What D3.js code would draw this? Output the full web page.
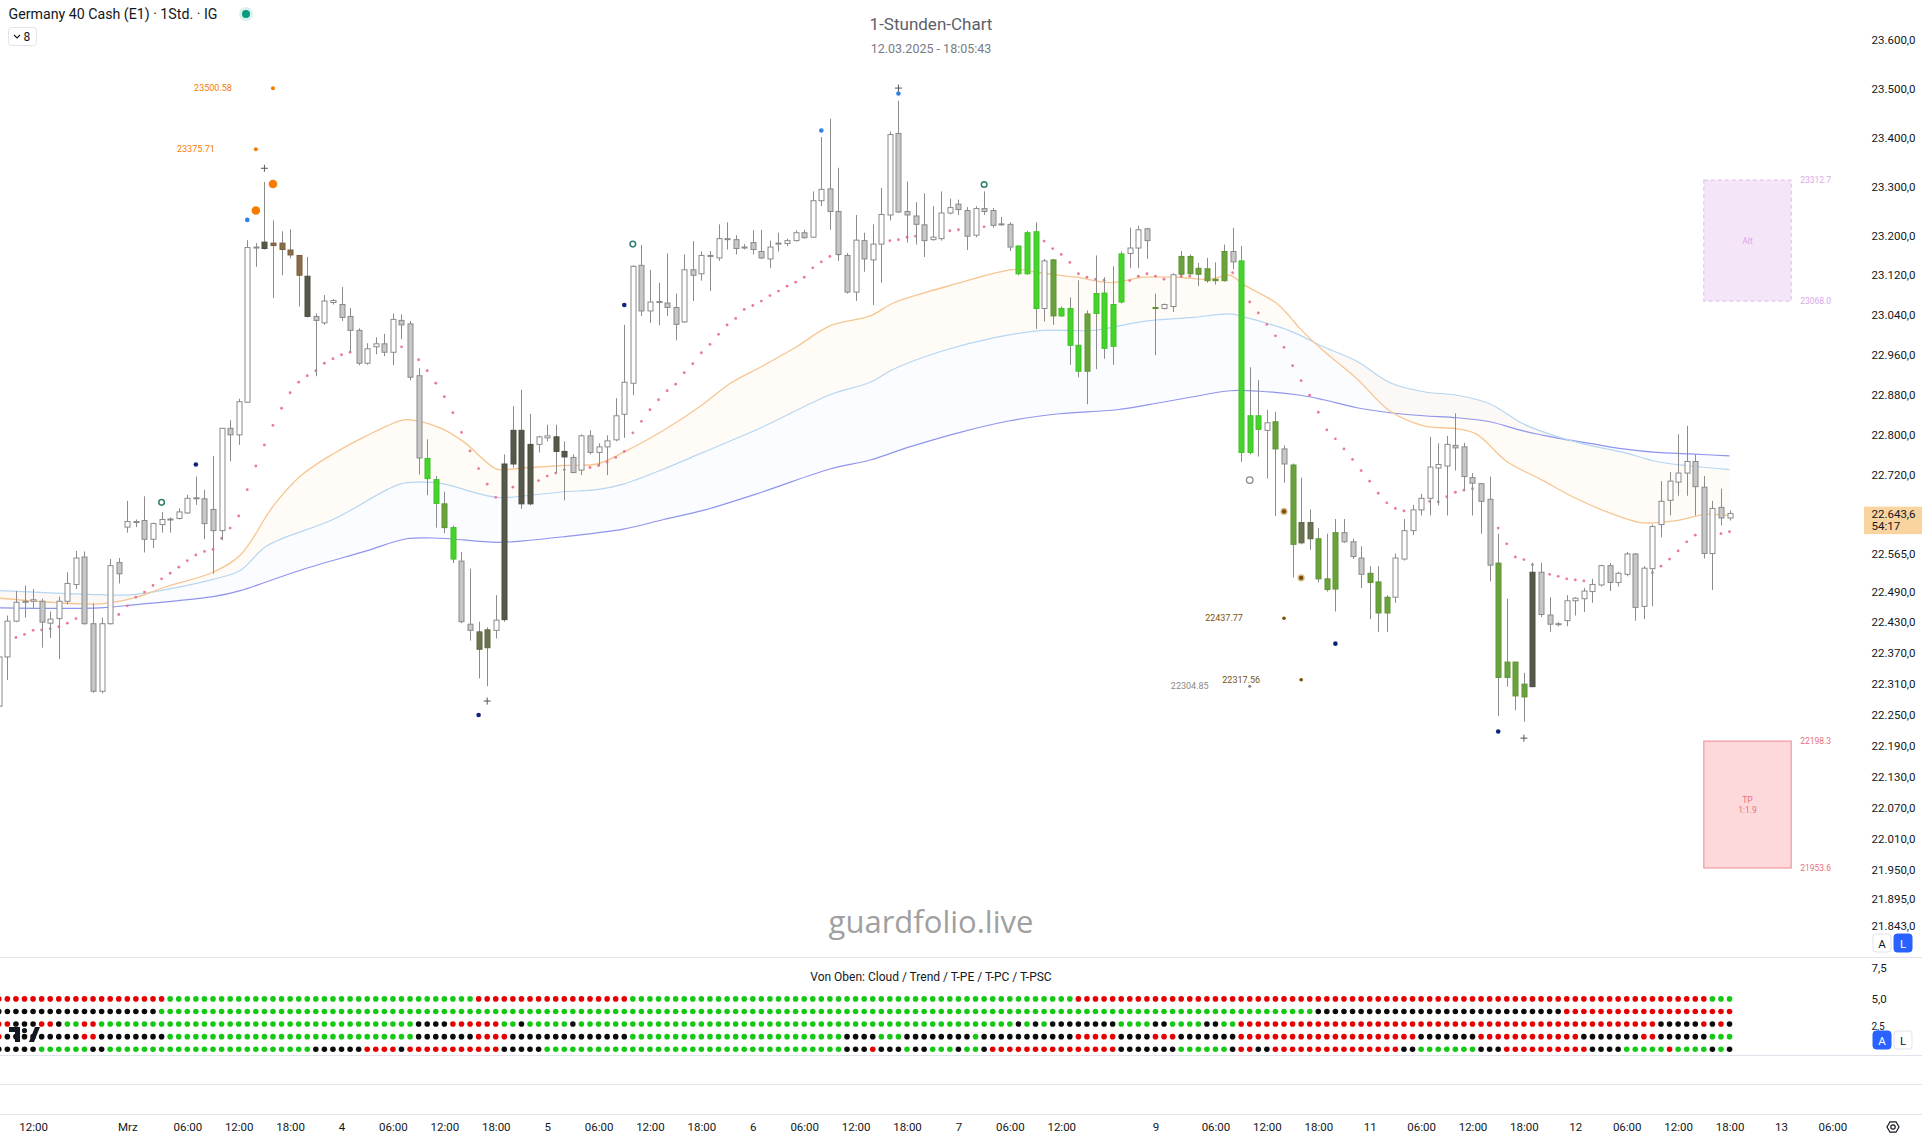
<!DOCTYPE html>
<html><head><meta charset="utf-8">
<script src="https://cdn.jsdelivr.net/npm/d3@7"></script>
<style>
html,body{margin:0;padding:0;background:#fff;overflow:hidden;}
svg{display:block;font-family:Roboto,"Noto Sans",sans-serif;}
</style></head><body>
<svg id="c" width="1922" height="1140"></svg>
<script>
// ---------------- DATA ----------------
const opens  = [22266,22362,22432,22469,22471,22471,22428,22437,22471,22504,22558,22427,22295,22427,22547,22617,22627,22630,22593,22622,22632,22634,22645,22674,22673,22652,22610,22813,22800,22865,23176,23174,23185,23185,23171,23160,23118,23037,23024,23065,23061,23037,23009,22943,22976,22982,22965,23029,23022,22918,22753,22711,22663,22616,22550,22426,22411,22380,22414,22435,22742,22809,22663,22781,22794,22796,22767,22755,22730,22798,22765,22776,22790,22841,22903,23140,23048,23066,23064,23055,23026,23131,23123,23159,23155,23192,23192,23177,23186,23168,23153,23185,23184,23190,23206,23197,23271,23295,23249,23160,23086,23190,23151,23183,23242,23408,23249,23240,23222,23192,23194,23246,23264,23251,23201,23255,23251,23223,23223,23179,23123,23208,23053,23151,23038,23053,22979,22927,23043,23084,22977,23066,23164,23175,23214,23053,23053,23057,23122,23158,23134,23133,23112,23109,23168,23149,22765,22838,22809,22826,22772,22740,22586,22626,22594,22515,22495,22606,22588,22556,22526,22509,22448,22479,22554,22610,22651,22674,22734,22738,22779,22776,22715,22703,22672,22546,22322,22352,22284,22304,22528,22444,22426,22433,22472,22476,22490,22503,22541,22508,22524,22564,22461,22535,22622,22670,22706,22724,22747,22696,22565,22656,22635];
const highs  = [22375,22443,22491,22502,22495,22476,22451,22480,22528,22570,22569,22467,22439,22554,22556,22669,22632,22678,22626,22647,22636,22654,22681,22717,22691,22758,22813,22829,22872,23191,23185,23309,23231,23209,23213,23161,23157,23043,23080,23072,23096,23054,23013,22983,22995,23002,23043,23041,23028,22933,22791,22718,22687,22620,22568,22535,22431,22420,22483,22761,22857,22890,22842,22798,22820,22820,22787,22761,22801,22809,22783,22799,22873,23020,23140,23181,23131,23105,23164,23083,23162,23189,23168,23169,23223,23227,23201,23183,23211,23212,23190,23206,23194,23211,23212,23290,23401,23438,23338,23165,23242,23206,23223,23297,23412,23475,23310,23268,23286,23260,23290,23275,23273,23258,23260,23290,23256,23238,23227,23180,23210,23227,23153,23153,23057,23075,23110,23049,23160,23116,23138,23168,23216,23220,23216,23083,23063,23124,23169,23162,23145,23155,23146,23182,23216,23179,22935,22909,22850,22846,22779,22743,22715,22652,22615,22604,22633,22633,22594,22579,22540,22540,22483,22565,22633,22661,22683,22796,22783,22798,22843,22784,22724,22704,22717,22604,22476,22352,22331,22547,22547,22479,22430,22483,22479,22497,22515,22543,22546,22529,22568,22566,22540,22622,22708,22726,22801,22818,22761,22718,22669,22693,22650];
const lows   = [22232,22317,22430,22439,22458,22380,22399,22358,22465,22495,22425,22292,22291,22425,22506,22606,22617,22567,22576,22606,22606,22632,22643,22661,22593,22525,22591,22747,22780,22865,23137,23172,23074,23120,23154,23057,23035,22917,23020,23061,23028,22965,22939,22940,22961,22957,22939,22991,22909,22721,22680,22616,22605,22546,22428,22394,22320,22305,22398,22431,22735,22653,22660,22765,22787,22724,22670,22724,22720,22761,22739,22720,22787,22794,22879,23038,23024,23019,23038,22989,23024,23068,23109,23088,23149,23172,23162,23172,23162,23153,23135,23168,23179,23188,23194,23196,23260,23212,23149,23083,23068,23127,23060,23105,23231,23246,23186,23182,23157,23190,23190,23243,23242,23171,23197,23242,23216,23220,23169,23120,23121,23012,23027,23020,23036,22940,22915,22861,22931,22952,22940,23063,23135,23135,23153,22959,23051,23046,23116,23120,23098,23105,23101,23107,23132,22746,22761,22757,22713,22639,22705,22518,22583,22572,22508,22490,22451,22586,22554,22497,22436,22411,22411,22468,22551,22601,22640,22640,22660,22640,22729,22690,22640,22604,22510,22247,22304,22258,22236,22303,22440,22411,22422,22422,22443,22450,22468,22500,22491,22500,22520,22433,22436,22461,22597,22640,22679,22679,22640,22555,22493,22620,22630];
const closes = [22362,22432,22469,22471,22474,22430,22436,22471,22506,22556,22427,22295,22427,22541,22525,22628,22628,22593,22624,22632,22633,22647,22674,22675,22624,22610,22813,22800,22866,23176,23177,23187,23180,23172,23161,23120,23037,23029,23068,23069,23035,23009,22943,22972,22982,22965,23031,23020,22915,22754,22713,22664,22616,22554,22431,22414,22377,22415,22434,22742,22809,22663,22781,22796,22798,22767,22756,22725,22798,22765,22776,22788,22838,22905,23138,23048,23066,23067,23055,23021,23131,23120,23160,23160,23194,23194,23174,23177,23172,23155,23177,23185,23190,23206,23196,23271,23294,23249,23162,23086,23191,23153,23183,23243,23406,23248,23242,23223,23190,23197,23246,23257,23253,23199,23255,23249,23221,23224,23177,23123,23206,23053,23149,23038,23053,22979,22927,23042,23083,22973,23061,23163,23175,23212,23190,23055,23061,23121,23158,23123,23122,23109,23109,23168,23147,22765,22838,22811,22824,22772,22742,22583,22626,22594,22515,22494,22606,22588,22559,22524,22508,22448,22479,22556,22610,22651,22674,22736,22741,22781,22774,22717,22704,22668,22542,22322,22352,22286,22309,22528,22445,22426,22427,22472,22477,22491,22504,22541,22508,22526,22564,22459,22536,22618,22668,22708,22724,22747,22697,22565,22654,22635,22644];
// candle colour code per bar: w hollow, g grey, G bright green, o olive, D dark olive, d dark, b brown
const candleKinds = "wwwwwgwwww"+"ggwwgwwgww"+"wwwwggwgww"+"wdbbbbdgww"+"gggwwgwggg"+"GGoGggDDwd"+"dddwwddgwg"+"wwwwwgwwgg"+"wgwwwwgwgg"+"wwwwgwwggg"+"wgwwwggggw"+"wwggwggwgG"+"GGwoGGGoGG"+"GGwwgowwoo"+"oooogGGGwo"+"goDDoooggg"+"ooowwwwwww"+"gggggooood"+"ggwwwwwwgw"+"wgwwwwwwgg"+"wgw";

// moving averages read at [bar, price]
const emaFast = [[0.1,22477],[11.8,22466],[15.7,22477],[19.6,22500],[25,22528],[28.2,22562],[32,22658],[35.2,22718],[39,22762],[42.9,22798],[46.8,22828],[48,22830],[51.5,22814],[54.2,22787],[58.1,22732],[59.7,22732],[62,22735],[65.9,22739],[69.8,22742],[72.9,22765],[77.6,22809],[82.2,22861],[85.3,22902],[89.2,22938],[93.1,22976],[97,23018],[101.7,23038],[104.4,23064],[108.3,23086],[112.2,23105],[116.1,23124],[118.8,23132],[121.9,23124],[125.8,23116],[129.7,23105],[133.6,23116],[137.5,23116],[141.4,23112],[143.7,23120],[145.3,23101],[149.1,23064],[150.7,23036],[151.9,23012],[154.6,22968],[158.5,22912],[162.4,22847],[166.3,22818],[170.2,22812],[172.5,22801],[176,22747],[179.9,22712],[183.8,22676],[187.7,22647],[191.6,22626],[195.4,22629],[199.3,22642],[202,22640]];
const emaMid = [[0.1,22492],[11.8,22484],[15.7,22484],[25,22514],[28.2,22532],[31.3,22580],[39,22632],[46.8,22702],[49.2,22706],[51.5,22704],[58.1,22676],[62,22680],[65.9,22687],[69.8,22691],[72.9,22702],[77.6,22732],[82.2,22765],[89.2,22816],[97,22880],[101.7,22905],[104.4,22931],[110.2,22968],[116.1,22994],[121.9,23009],[127.7,23009],[133.6,23027],[139.4,23035],[143.7,23042],[145.3,23036],[150.7,23008],[154.6,22976],[158.5,22947],[162.4,22904],[166.3,22886],[170.2,22879],[174,22862],[177.9,22822],[181.8,22797],[185.7,22779],[189.6,22765],[193.5,22747],[197.4,22738],[202,22731]];
const emaSlow = [[0.1,22458],[11.8,22458],[15.7,22464],[25,22480],[28.2,22492],[35.2,22532],[42.9,22570],[47.6,22594],[51.5,22595],[58.1,22587],[62,22591],[65.9,22598],[72.9,22613],[77.6,22632],[82.2,22650],[89.2,22687],[97,22732],[101.7,22750],[106.3,22776],[112.2,22805],[118,22828],[123.8,22842],[130.5,22850],[135.5,22864],[139.4,22876],[143.7,22888],[147.2,22887],[151.9,22879],[154.6,22870],[158.5,22854],[162.4,22844],[166.3,22838],[170.2,22834],[174,22826],[177.9,22808],[181.8,22794],[185.7,22783],[189.6,22772],[193.5,22765],[197.4,22762],[202,22758]];

// trailing stop dots [bar, price]
const sarDots = [[2,22400],[3,22406],[4,22414],[5,22415],[6,22417],[7,22421],[8,22428],[9,22437],[10,22440],[14,22445],[15,22462],[16,22479],[17,22489],[18,22502],[19,22515],[20,22526],[21,22538],[22,22551],[23,22562],[24,22569],[25,22573],[26,22595],[27,22615],[28,22639],[29,22691],[30,22738],[31,22780],[32,22819],[33,22853],[34,22884],[35,22905],[36,22918],[37,22928],[38,22943],[39,22952],[40,22960],[41,22965],[42,22966],[47,22976],[48,22972],[49,22950],[50,22928],[51,22903],[52,22876],[53,22844],[54,22805],[55,22768],[56,22733],[57,22702],[58,22676],[60,22696],[63,22709],[64,22718],[65,22724],[66,22731],[67,22733],[69,22735],[70,22739],[71,22746],[72,22755],[73,22767],[74,22804],[75,22827],[76,22850],[77,22870],[78,22888],[79,22901],[80,22924],[81,22942],[82,22964],[83,22981],[84,23001],[85,23020],[86,23033],[87,23051],[88,23059],[89,23068],[90,23079],[91,23088],[92,23098],[93,23106],[94,23116],[95,23135],[96,23147],[97,23158],[98,23162],[99,23151],[104,23190],[105,23192],[106,23197],[107,23199],[108,23201],[111,23210],[112,23212],[114,23216],[115,23218],[122,23189],[123,23174],[124,23162],[125,23146],[126,23123],[127,23116],[128,23112],[129,23110],[132,23109],[133,23118],[134,23123],[135,23118],[136,23112],[138,23118],[139,23118],[144,23125],[146,23066],[147,23044],[148,23021],[149,22998],[150,22975],[151,22938],[152,22908],[153,22879],[154,22845],[155,22810],[156,22792],[157,22772],[158,22751],[159,22729],[160,22708],[161,22684],[162,22665],[163,22654],[164,22649],[166,22663],[167,22668],[168,22667],[169,22677],[170,22686],[171,22690],[172,22693],[174,22643],[175,22615],[176,22584],[177,22558],[178,22553],[179,22543],[181,22524],[182,22520],[183,22515],[184,22513],[185,22511],[191,22513],[193,22527],[194,22540],[195,22554],[196,22570],[197,22588],[198,22601],[201,22604],[202,22608]];

// signal markers
const markers = [
  {bar:32,price:23500.58,kind:"orangeS"},{bar:30,price:23375.71,kind:"orangeS"},
  {bar:32,price:23305,kind:"orangeL"},{bar:30,price:23251,kind:"orangeL"},
  {bar:29,price:23232,kind:"blue"},{bar:96,price:23414,kind:"blue"},{bar:105,price:23490,kind:"blue"},
  {bar:23,price:22741,kind:"navy"},{bar:56,price:22249,kind:"navy"},{bar:73,price:23060,kind:"navy"},{bar:156,price:22388,kind:"navy"},{bar:175,price:22217,kind:"navy"},
  {bar:19,price:22666,kind:"ringTeal"},{bar:74,price:23183,kind:"ringTeal"},{bar:115,price:23304,kind:"ringTeal"},
  {bar:146,price:22710,kind:"ringGray"},
  {bar:150,price:22648,kind:"brownRing"},{bar:152,price:22517,kind:"brownRing"},
  {bar:150,price:22437.77,kind:"brownS"},{bar:152,price:22317.56,kind:"brownS"},{bar:146,price:22304.85,kind:"grayS"},
  {bar:31,price:23337,kind:"plus"},{bar:57,price:22276,kind:"plus"},{bar:105,price:23501,kind:"plus"},{bar:178,price:22204,kind:"plus"}
];
const markerLabels = [
  {bar:32,price:23500.58,text:"23500.58",color:"#f57c00"},
  {bar:30,price:23375.71,text:"23375.71",color:"#f57c00"},
  {bar:150,price:22437.77,text:"22437.77",color:"#7a5410"},
  {bar:152,price:22317.56,text:"22317.56",color:"#7a5410"},
  {bar:146,price:22304.85,text:"22304.85",color:"#8a8a8a"}
];
// projection boxes
const boxes = [
  {name:"Alt",lines:["Alt"],bar0:199,bar1:209.2,top:23312.7,bottom:23068.0,fill:"#f4e6f8",stroke:"#e3c4ee",text:"#d9a6e6",dash:"4,3"},
  {name:"TP",lines:["TP","1:1.9"],bar0:199,bar1:209.2,top:22198.3,bottom:21953.6,fill:"#fdd9db",stroke:"#f09aa0",text:"#e8707a",dash:null}
];

// price axis (log scale) ticks
const priceTicks = [23600,23500,23400,23300,23200,23120,23040,22960,22880,22800,22720,22565,22490,22430,22370,22310,22250,22190,22130,22070,22010,21950,21895,21843];
const lastPrice = 22643.6, countdown = "54:17";
// time axis
const timeTickBars   = [4,15,22,28,34,40,46,52,58,64,70,76,82,88,94,100,106,112,118,124,135,142,148,154,160,166,172,178,184,190,196,202,208,214];
const timeTickLabels = ["12:00","Mrz","06:00","12:00","18:00","4","06:00","12:00","18:00","5","06:00","12:00","18:00","6","06:00","12:00","18:00","7","06:00","12:00","9","06:00","12:00","18:00","11","06:00","12:00","18:00","12","06:00","12:00","18:00","13","06:00"];

// indicator pane rows (run lengths of r red / g green / k black)
const rowCloud = [["r",20],["g",36],["r",18],["g",52],["r",74],["g",3]];
const rowTrend = [["k",19],["g",135],["k",29],["r",20]];
const rowTPE   = [["r",2],["k",3],["r",2],["k",1],["g",2],["r",2],["g",37],["k",4],["r",6],["g",2],["k",1],["g",5],["k",1],["g",51],["k",1],["g",1],["k",1],["g",1],["k",8],["g",4],["k",2],["g",4],["k",2],["g",2],["r",49],["k",5],["r",1],["k",1],["r",1],["k",1]];
const rowTPC   = [["r",1],["k",9],["r",2],["k",8],["g",29],["k",7],["r",4],["k",14],["g",25],["k",4],["g",3],["k",8],["g",1],["k",11],["r",5],["k",4],["r",3],["k",7],["r",21],["k",7],["r",12],["k",7],["r",2],["k",6],["g",3]];
const rowTPSC  = [["k",5],["g",6],["k",2],["g",24],["k",6],["r",4],["k",1],["r",11],["k",5],["g",35],["k",3],["r",1],["k",3],["g",1],["k",2],["g",3],["k",1],["g",2],["k",1],["r",15],["k",7],["g",6],["k",1],["r",2],["k",2],["r",15],["k",2],["g",7],["k",3],["r",10],["k",4],["g",5],["r",1],["g",4],["k",1],["g",1],["k",1]];
const rowValues = [5,4,3,2,1];
const indTicks = [7.5,5.0,2.5];

// ---------------- DRAWING ----------------
const svg = d3.select("#c");
const W = 1922, H = 1140;
const mainBottom = 957, plotRight = 1860;
const font = 'Roboto,"Noto Sans",sans-serif';

const x = d3.scaleLinear().domain([0, 217]).range([-1.2, -1.2 + 217*8.568]);
const y = d3.scaleLog().domain([23682.5, 21783.6]).range([0, mainBottom]);
const yi = d3.scaleLinear().domain([7.5, 1]).range([967.5, 1049.2]);

const loc = d3.formatLocale({decimal:",",thousands:".",grouping:[3],currency:["",""]});
const fmtP = loc.format(",.1f");
const fmtI = loc.format(".1f");

svg.append("rect").attr("width",W).attr("height",H).attr("fill","#fff");

const defs = svg.append("defs");
defs.append("clipPath").attr("id","mainClip").append("rect").attr("x",0).attr("y",0).attr("width",plotRight).attr("height",mainBottom);

// pane separators
[mainBottom, 1055, 1084, 1114].forEach(v=>{
  svg.append("line").attr("x1",0).attr("x2",W).attr("y1",v+0.5).attr("y2",v+0.5).attr("stroke","#e0e3eb").attr("stroke-width",1);
});

const main = svg.append("g").attr("clip-path","url(#mainClip)");

// watermark
main.append("text").attr("x",931).attr("y",933).attr("text-anchor","middle")
  .attr("font-family",'"Open Sans",Roboto,sans-serif').attr("font-size",31).attr("fill","#a0a0a0").text("guardfolio.live");

// cloud fills
const lineGen = d3.line().x(d=>x(d[0])).y(d=>y(d[1])).curve(d3.curveCatmullRom.alpha(0.5));
function band(a,b){
  const p1 = lineGen(a);
  const p2 = lineGen(b.slice().reverse());
  return p1 + "L" + p2.slice(1) + "Z";
}
main.append("path").attr("d",band(emaFast,emaMid)).attr("fill","rgba(255,170,80,0.05)").attr("stroke","none");
main.append("path").attr("d",band(emaMid,emaSlow)).attr("fill","rgba(130,150,255,0.032)").attr("stroke","none");
main.append("path").attr("d",lineGen(emaSlow)).attr("fill","none").attr("stroke","#8f95ec").attr("stroke-width",1.2);
main.append("path").attr("d",lineGen(emaMid)).attr("fill","none").attr("stroke","#b6d6f2").attr("stroke-width",1.2);
main.append("path").attr("d",lineGen(emaFast)).attr("fill","none").attr("stroke","#f6c692").attr("stroke-width",1.3);

// SAR dots
main.append("g").selectAll("circle").data(sarDots).join("circle")
  .attr("cx",d=>x(d[0])).attr("cy",d=>y(d[1])).attr("r",1.4).attr("fill","#e97a96");

// candles
const kindStyle = {
  w:{fill:"#ffffff",stroke:"#8a8a8a"},
  g:{fill:"#c7c7c7",stroke:"#8a8a8a"},
  G:{fill:"#46d42c",stroke:"#3cc124"},
  o:{fill:"#6aa23c",stroke:"#5e9234"},
  D:{fill:"#6a7350",stroke:"#5e6646"},
  d:{fill:"#55594b",stroke:"#4a4d41"},
  b:{fill:"#8c6b47",stroke:"#7c5d3c"}
};
const bars = opens.map((o,i)=>({i,o,h:highs[i],l:lows[i],c:closes[i],k:candleKinds[i]}));
const cg = main.append("g");
const bw = 5;
bars.forEach(b=>{
  const cx = Math.round(x(b.i)) + 0.5;
  cg.append("line").attr("x1",cx).attr("x2",cx).attr("y1",y(b.h)).attr("y2",y(b.l)).attr("stroke","#8c8c8c").attr("stroke-width",1);
  const yt = y(Math.max(b.o,b.c)), yb = y(Math.min(b.o,b.c));
  const st = kindStyle[b.k];
  cg.append("rect").attr("x",cx-bw/2).attr("y",yt).attr("width",bw).attr("height",Math.max(1,yb-yt))
    .attr("fill",st.fill).attr("stroke",st.stroke).attr("stroke-width",1);
});

// markers
const mg = main.append("g");
markers.forEach(m=>{
  const cx = x(m.bar), cy = y(m.price);
  switch(m.kind){
    case "orangeS": mg.append("circle").attr("cx",cx).attr("cy",cy).attr("r",2).attr("fill","#f57c00"); break;
    case "orangeL": mg.append("circle").attr("cx",cx).attr("cy",cy).attr("r",4.3).attr("fill","#f57c00"); break;
    case "blue": mg.append("circle").attr("cx",cx).attr("cy",cy).attr("r",2.3).attr("fill","#2f80e8"); break;
    case "navy": mg.append("circle").attr("cx",cx).attr("cy",cy).attr("r",2.3).attr("fill","#10237a"); break;
    case "ringTeal": mg.append("circle").attr("cx",cx).attr("cy",cy).attr("r",2.8).attr("fill","none").attr("stroke","#2e7d6e").attr("stroke-width",1.5); break;
    case "ringGray": mg.append("circle").attr("cx",cx).attr("cy",cy).attr("r",3.3).attr("fill","none").attr("stroke","#8a8a8a").attr("stroke-width",1.3); break;
    case "brownRing":
      mg.append("circle").attr("cx",cx).attr("cy",cy).attr("r",3.6).attr("fill","#d7b98a");
      mg.append("circle").attr("cx",cx).attr("cy",cy).attr("r",2.2).attr("fill","#7a4d08"); break;
    case "brownS": mg.append("circle").attr("cx",cx).attr("cy",cy).attr("r",1.8).attr("fill","#7a4d08"); break;
    case "grayS": mg.append("circle").attr("cx",cx).attr("cy",cy).attr("r",1.6).attr("fill","#8a8a8a"); break;
    case "plus":
      mg.append("path").attr("d",`M${cx-3.5},${cy}H${cx+3.5}M${cx},${cy-3.5}V${cy+3.5}`).attr("stroke","#555").attr("stroke-width",1); break;
  }
});
markerLabels.forEach(l=>{
  mg.append("text").attr("x",x(l.bar-7)).attr("y",y(l.price)+3).attr("text-anchor","middle")
    .attr("font-family",font).attr("font-size",9).attr("fill",l.color).text(l.text);
});

// projection boxes
boxes.forEach(b=>{
  const x0 = x(b.bar0), x1 = x(b.bar1), y0 = y(b.top), y1 = y(b.bottom);
  const r = main.append("rect").attr("x",x0).attr("y",y0).attr("width",x1-x0).attr("height",y1-y0)
    .attr("fill",b.fill).attr("stroke",b.stroke).attr("stroke-width",1.2);
  if(b.dash) r.attr("stroke-dasharray",b.dash);
  const mid = (y0+y1)/2;
  b.lines.forEach((t,k)=>{
    main.append("text").attr("x",(x0+x1)/2).attr("y",mid + 3 + (k-(b.lines.length-1)/2)*10)
      .attr("text-anchor","middle").attr("font-family",font).attr("font-size",8.5).attr("fill",b.text).text(t);
  });
  [[b.top,y0],[b.bottom,y1]].forEach(([p,yy])=>{
    main.append("text").attr("x",x1+9).attr("y",yy+3).attr("font-family",font).attr("font-size",8.5)
      .attr("fill",b.text).text(p.toFixed(1));
  });
});

// titles
svg.append("text").attr("x",931).attr("y",30).attr("text-anchor","middle").attr("font-family",font)
  .attr("font-size",17).attr("fill","#5d606b").text("1-Stunden-Chart");
svg.append("text").attr("x",931).attr("y",53).attr("text-anchor","middle").attr("font-family",font)
  .attr("font-size",12.5).attr("fill","#787b86").text("12.03.2025 - 18:05:43");

svg.append("text").attr("x",8.5).attr("y",19).attr("font-family",font).attr("font-size",14.2)
  .attr("fill","#131722").text("Germany 40 Cash (E1) · 1Std. · IG");
svg.append("circle").attr("cx",246).attr("cy",14).attr("r",7).attr("fill","rgba(8,153,129,0.15)");
svg.append("circle").attr("cx",246).attr("cy",14).attr("r",4).attr("fill","#089981");
svg.append("rect").attr("x",8.5).attr("y",27.5).attr("width",28).attr("height",18).attr("rx",3)
  .attr("fill","#fff").attr("stroke","#e0e3eb");
svg.append("path").attr("d","M14,35 l3,3 l3,-3").attr("fill","none").attr("stroke","#131722").attr("stroke-width",1.1);
svg.append("text").attr("x",23.5).attr("y",41).attr("font-family",font).attr("font-size",12).attr("fill","#131722").text("8");

// price axis
const pa = svg.append("g").attr("transform",`translate(${plotRight+8},0)`)
  .call(d3.axisRight(y).tickValues(priceTicks).tickFormat(fmtP).tickSize(0).tickPadding(3.5));
pa.select(".domain").remove();
pa.selectAll("text").attr("font-family",font).attr("font-size",11.5).attr("fill","#131722");

// last price badge
const ly = y(lastPrice);
svg.append("rect").attr("x",1864).attr("y",ly-7).attr("width",58).attr("height",27.5).attr("fill","#f9d49f");
svg.append("text").attr("x",1871.5).attr("y",ly+4).attr("font-family",font).attr("font-size",11.5).attr("fill","#131722").text(fmtP(lastPrice));
svg.append("text").attr("x",1871.5).attr("y",ly+16.5).attr("font-family",font).attr("font-size",11.5).attr("fill","#131722").text(countdown);

// indicator pane
svg.append("text").attr("x",931).attr("y",981).attr("text-anchor","middle").attr("font-family",font)
  .attr("font-size",12).attr("fill","#131722").text("Von Oben: Cloud / Trend / T-PE / T-PC / T-PSC");
const ia = svg.append("g").attr("transform",`translate(${plotRight+8},0)`)
  .call(d3.axisRight(yi).tickValues(indTicks).tickFormat(fmtI).tickSize(0).tickPadding(3.5));
ia.select(".domain").remove();
ia.selectAll("text").attr("font-family",font).attr("font-size",11.5).attr("fill","#131722");
// the lowest tick label sits just above the scale buttons
ia.selectAll(".tick").filter(d=>d===2.5).select("text").attr("dy","-0.05em").attr("font-size",10);

const dotColor = {r:"#e60000",g:"#14c814",k:"#0b0b0b"};
const rows = [rowCloud,rowTrend,rowTPE,rowTPC,rowTPSC];
const ig = svg.append("g");
rows.forEach((runs,ri)=>{
  const seq = [];
  runs.forEach(([c,n])=>{ for(let j=0;j<n;j++) seq.push(c); });
  ig.selectAll(null).data(seq).join("circle")
    .attr("cx",(d,i)=>x(i)).attr("cy",yi(rowValues[ri])).attr("r",2.8).attr("fill",d=>dotColor[d]);
});

// TradingView-like logo
const logo = svg.append("g").attr("fill","#131722");
logo.append("path").attr("d","M9,1027 h11 v15 h-5 v-10 h-6 z");
logo.append("circle").attr("cx",24.5).attr("cy",1030.5).attr("r",2.6);
logo.append("path").attr("d","M29,1042 l6,-15 h5 l-6,15 z");

// A / L buttons
function btn(bx,by,label,active){
  svg.append("rect").attr("x",bx).attr("y",by).attr("width",18).attr("height",18).attr("rx",3)
    .attr("fill",active?"#2962ff":"#fff").attr("stroke",active?"#2962ff":"#e0e3eb");
  svg.append("text").attr("x",bx+9).attr("y",by+13.5).attr("text-anchor","middle").attr("font-family",font)
    .attr("font-size",11.5).attr("fill",active?"#fff":"#131722").text(label);
}
btn(1873,934,"A",false); btn(1894,934,"L",true);
btn(1873,1031,"A",true); btn(1894,1031,"L",false);

// time axis
const ta = svg.append("g").attr("transform","translate(0,1114)")
  .call(d3.axisBottom(x).tickValues(timeTickBars).tickFormat((d,i)=>timeTickLabels[i]).tickSize(0).tickPadding(9));
ta.select(".domain").remove();
ta.selectAll("text").attr("font-family",font).attr("font-size",11.5).attr("fill","#131722");

// settings icon
const gx = 1893, gy = 1127;
const hex = d3.range(6).map(k=>[gx+6*Math.cos(Math.PI/3*k), gy+6*Math.sin(Math.PI/3*k)]);
svg.append("path").attr("d","M"+hex.map(p=>p.join(",")).join("L")+"Z").attr("fill","none").attr("stroke","#131722").attr("stroke-width",1.2);
svg.append("circle").attr("cx",gx).attr("cy",gy).attr("r",2.2).attr("fill","none").attr("stroke","#131722").attr("stroke-width",1.2);
</script>
</body></html>
